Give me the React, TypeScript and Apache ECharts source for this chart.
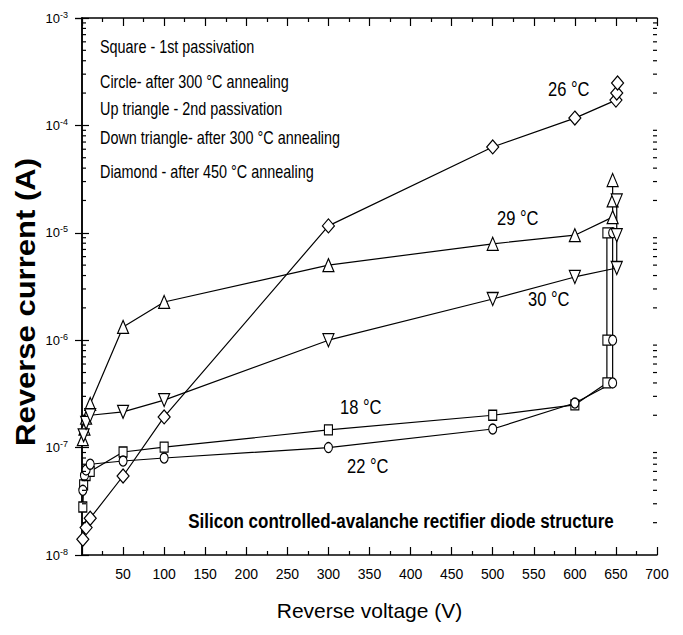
import React, { useEffect, useRef } from "react";
import * as echarts from "echarts";

// ---- data ----
const squareV = [1, 2, 5, 10, 50, 100, 300, 500, 600, 639, 639, 639];
const squareI = [2.8e-8, 4.5e-8, 5.5e-8, 6.0e-8, 9.1e-8, 1.01e-7, 1.46e-7, 2.0e-7, 2.5e-7, 4.0e-7, 1.0e-6, 1.0e-5];

const circleV = [1, 3, 5, 10, 50, 100, 300, 500, 600, 646, 646, 646];
const circleI = [4.0e-8, 5.5e-8, 6.2e-8, 7.0e-8, 7.5e-8, 8.0e-8, 1.0e-7, 1.49e-7, 2.6e-7, 4.0e-7, 1.0e-6, 1.0e-5];

const upTriV = [1, 3, 5, 10, 50, 100, 300, 500, 600, 646, 646, 646];
const upTriI = [1.2e-7, 1.5e-7, 1.9e-7, 2.55e-7, 1.33e-6, 2.27e-6, 5.0e-6, 7.9e-6, 9.5e-6, 1.4e-5, 2.0e-5, 3.1e-5];

const downTriV = [2, 5, 10, 50, 100, 300, 500, 600, 651, 651, 651];
const downTriI = [1.3e-7, 1.7e-7, 2.0e-7, 2.15e-7, 2.77e-7, 1.0e-6, 2.42e-6, 3.88e-6, 4.7e-6, 9.5e-6, 2.0e-5];

const diamondV = [1, 5, 10, 50, 100, 300, 500, 600, 650, 651, 652];
const diamondI = [1.4e-8, 1.8e-8, 2.2e-8, 5.44e-8, 1.93e-7, 1.16e-5, 6.3e-5, 1.17e-4, 1.72e-4, 2.0e-4, 2.48e-4];

const legendNotes = [
  "Square - 1st passivation",
  "Circle- after 300 °C annealing",
  "Up triangle - 2nd passivation",
  "Down triangle- after 300 °C annealing",
  "Diamond - after 450 °C annealing",
];
const tempLabels = ["26 °C", "29 °C", "30 °C", "18 °C", "22 °C"];
const chartNote = "Silicon controlled-avalanche rectifier diode structure";
const xTitle = "Reverse voltage (V)";
const yTitle = "Reverse current (A)";

const xMin = 0;
const xMax = 700;
const xInterval = 50;
const yMin = 1e-8;
const yMax = 1e-3;
const minorMultipliers = [2, 3, 4, 5, 6, 7, 8, 9];
const decadeExponents = [-8, -7, -6, -5, -4];

const FONT = "'Liberation Sans', Arial, sans-serif";

function zip(xs: number[], ys: number[]) {
  return xs.map((x, i) => [x, ys[i]]);
}

export default function App() {
  const ref = useRef<HTMLDivElement>(null);

  useEffect(() => {
    if (!ref.current) return;
    const chart = echarts.init(ref.current, undefined, { renderer: "svg" });

    const minorTicks: number[][] = [];
    decadeExponents.forEach((e) =>
      minorMultipliers.forEach((m) => minorTicks.push([0, m * Math.pow(10, e)]))
    );

    const lineBase = {
      type: "line",
      xAxisIndex: 0,
      yAxisIndex: 0,
      showAllSymbol: true,
      lineStyle: { color: "#000", width: 1.2 },
      itemStyle: { color: "#fff", borderColor: "#000", borderWidth: 1.2 },
      emphasis: { disabled: true },
      z: 3,
    };

    const axisLineStyle = { show: true, lineStyle: { color: "#000", width: 1.5 } };
    const xTick = { show: true, inside: true, length: 8, lineStyle: { color: "#000", width: 1.2 } };
    const xMinor = { show: true, splitNumber: 2, length: 4, lineStyle: { color: "#000", width: 1.2 } };
    const yTick = { show: true, inside: true, length: 7, lineStyle: { color: "#000", width: 1.2 } };

    const option: any = {
      animation: false,
      backgroundColor: "#fff",
      grid: { left: 82, top: 18, width: 575, height: 537, containLabel: false },
      xAxis: [
        {
          type: "value",
          min: xMin,
          max: xMax,
          interval: xInterval,
          position: "bottom",
          axisLine: axisLineStyle,
          axisTick: xTick,
          minorTick: xMinor,
          splitLine: { show: false },
          minorSplitLine: { show: false },
          axisLabel: {
            formatter: (v: number) => (v === 0 ? "" : String(v)),
            color: "#000",
            fontSize: 14,
            fontFamily: FONT,
            margin: 12,
          },
          name: xTitle,
          nameLocation: "middle",
          nameGap: 45,
          nameTextStyle: { color: "#000", fontSize: 21, fontFamily: FONT },
        },
        {
          type: "value",
          min: xMin,
          max: xMax,
          interval: xInterval,
          position: "top",
          axisLine: axisLineStyle,
          axisTick: xTick,
          minorTick: xMinor,
          splitLine: { show: false },
          axisLabel: { show: false },
        },
      ],
      yAxis: [
        {
          type: "log",
          logBase: 10,
          min: yMin,
          max: yMax,
          position: "left",
          axisLine: axisLineStyle,
          axisTick: yTick,
          splitLine: { show: false },
          axisLabel: {
            formatter: (v: number) => `{n|10}{s|${Math.round(Math.log10(v))}}`,
            margin: 14,
            rich: {
              n: { fontSize: 13, fontFamily: FONT, color: "#000", lineHeight: 16 },
              s: { fontSize: 9, fontFamily: FONT, color: "#000", lineHeight: 16, verticalAlign: "top" },
            },
          },
        },
        {
          type: "log",
          logBase: 10,
          min: yMin,
          max: yMax,
          position: "right",
          axisLine: axisLineStyle,
          axisTick: yTick,
          splitLine: { show: false },
          axisLabel: { show: false },
        },
      ],
      series: [
        { ...lineBase, name: "Square", symbol: "rect", symbolSize: [8, 10], data: zip(squareV, squareI) },
        { ...lineBase, name: "Circle", symbol: "circle", symbolSize: [8, 10], data: zip(circleV, circleI) },
        { ...lineBase, name: "Up triangle", symbol: "triangle", symbolSize: [11, 13], data: zip(upTriV, upTriI) },
        {
          ...lineBase,
          name: "Down triangle",
          symbol: "triangle",
          symbolRotate: 180,
          symbolSize: [11, 13],
          data: zip(downTriV, downTriI),
        },
        { ...lineBase, name: "Diamond", symbol: "diamond", symbolSize: [12, 14], data: zip(diamondV, diamondI) },
        {
          type: "custom",
          name: "minorTicks",
          xAxisIndex: 0,
          yAxisIndex: 0,
          silent: true,
          clip: false,
          z: 5,
          data: minorTicks,
          renderItem: (_params: any, api: any) => {
            const v = api.value(1);
            const l = api.coord([xMin, v]);
            const r = api.coord([xMax, v]);
            const style = { stroke: "#000", lineWidth: 1.2 };
            return {
              type: "group",
              children: [
                { type: "line", shape: { x1: l[0], y1: l[1], x2: l[0] + 4, y2: l[1] }, style },
                { type: "line", shape: { x1: r[0], y1: r[1], x2: r[0] - 4, y2: r[1] }, style },
              ],
            };
          },
        },
      ],
      graphic: [
        {
          type: "text",
          x: 26,
          y: 302,
          rotation: Math.PI / 2,
          scaleX: 1.15,
          style: {
            text: yTitle,
            fill: "#000",
            fontSize: 27,
            fontWeight: "bold",
            fontFamily: FONT,
            align: "center",
            verticalAlign: "middle",
          },
        },
        ...legendNotes.map((t, i) => ({
          type: "text",
          x: 100,
          y: [46, 81, 108, 137, 171][i],
          scaleY: 1.25,
          style: { text: t, fill: "#000", fontSize: 14.4, fontFamily: FONT, verticalAlign: "middle" },
        })),
        ...tempLabels.map((t, i) => ({
          type: "text",
          x: [548, 497, 528, 340, 347][i],
          y: [89, 218, 299, 407, 466][i],
          scaleY: 1.2,
          style: { text: t, fill: "#000", fontSize: 16.5, fontFamily: FONT, verticalAlign: "middle" },
        })),
        {
          type: "text",
          x: 401,
          y: 521,
          scaleY: 1.15,
          style: {
            text: chartNote,
            fill: "#000",
            fontSize: 17,
            fontWeight: "bold",
            fontFamily: FONT,
            align: "center",
            verticalAlign: "middle",
          },
        },
      ],
    };

    chart.setOption(option);
    return () => chart.dispose();
  }, []);

  return (
    <div
      ref={ref}
      style={{ position: "absolute", left: 0, top: 0, width: 683, height: 635, background: "#fff" }}
    />
  );
}
